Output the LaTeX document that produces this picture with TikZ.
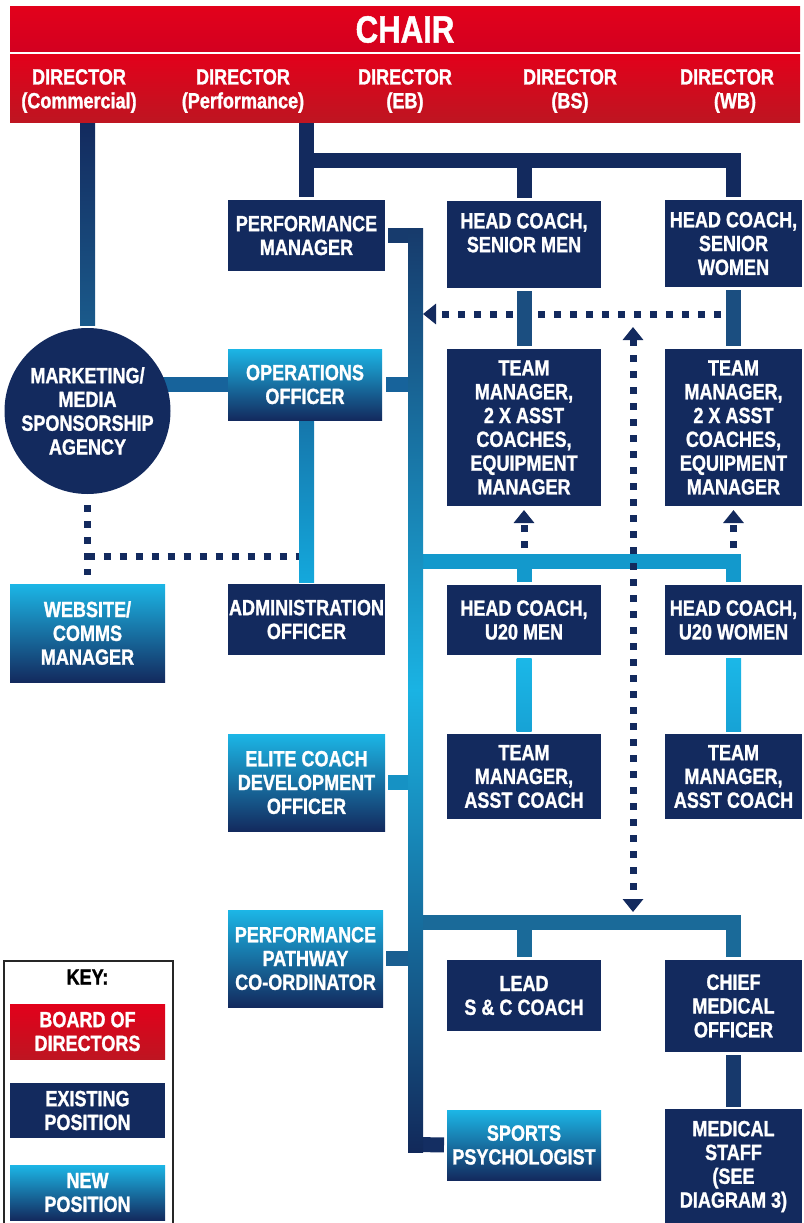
\documentclass[tikz,border=0pt]{standalone}
\usepackage{fontspec}
\newfontfamily\condf{Liberation Sans}[FakeStretch=0.82,BoldFeatures={FakeBold=1.2}]
\usetikzlibrary{calc,arrows.meta,backgrounds}
\definecolor{cNavy}{HTML}{132A5E}
\definecolor{cRedT}{HTML}{E2011B}
\definecolor{cRedB}{HTML}{BE1521}
\definecolor{cChairB}{HTML}{D30020}
\definecolor{cCyT}{HTML}{1CB6E6}
\definecolor{cLnA}{HTML}{1A5A8B}
\definecolor{cTopStub}{HTML}{173B6D}
\definecolor{cOps}{HTML}{17639B}
\definecolor{cOA1}{HTML}{1576AB}
\definecolor{cOA2}{HTML}{14A8DC}
\definecolor{cBr1}{HTML}{1399CC}
\definecolor{cCy}{HTML}{1BB8E8}
\definecolor{cCy2}{HTML}{17A2D5}
\definecolor{cEcdo}{HTML}{1692C4}
\definecolor{cBr2}{HTML}{1A6A99}
\definecolor{cPpc}{HTML}{1A5F91}
\definecolor{cBot}{HTML}{142E62}
\definecolor{cHS}{HTML}{1B4E80}
\definecolor{cCmo}{HTML}{17396C}
\definecolor{cTrT}{HTML}{173A6B}
\definecolor{cTrM}{HTML}{1AB3E3}
\definecolor{cTrB}{HTML}{12295A}
\begin{document}
\begin{tikzpicture}[x=1pt,y=-1pt,
  bx/.style={inner sep=0pt,outer sep=0pt,align=center,text=white,
    font=\condf\bfseries\fontsize{22}{23.8}\selectfont},
  sz/.style 2 args={minimum width=#1pt,minimum height=#2pt},
  existing/.style={bx,fill=cNavy},
  newpos/.style={bx,top color=cCyT,bottom color=cNavy},
  board/.style={bx,top color=cRedT,bottom color=cRedB},
  conn/.style={line width=15pt},
  dotl/.style={draw=cNavy,line width=7pt,dash pattern=on 7pt off 9pt},
  arrtip/.style={-{Triangle[width=20pt,length=13pt]}},
  arrboth/.style={{Triangle[width=20pt,length=13pt]}-{Triangle[width=20pt,length=13pt]}},
]
\useasboundingbox (0,0) rectangle (803,1223);

% ---- board ----
\node[bx,top color=cRedT,bottom color=cChairB,sz={790}{45},
      font=\condf\bfseries\fontsize{38}{40}\selectfont] (chair) at (405,29.5) {CHAIR};
\node[board,sz={790}{67}] (dirs) at (405,88.5) {};
\node[bx] (d1) at (79,91) {DIRECTOR\\(Commercial)};
\node[bx] (d2) at (243,91) {DIRECTOR\\(Performance)};
\node[bx] (d3) at (405,91) {DIRECTOR\\(EB)};
\node[bx] (d4) at (570,91) {DIRECTOR\\(BS)};
\node[bx] (d5) at (727,91) {DIRECTOR\\\hspace*{16pt}(WB)};

% ---- positions ----
\node[existing,sz={157}{71}] (pm) at (306.5,235.5) {PERFORMANCE\\MANAGER};
\node[existing,sz={154}{87}] (hcsm) at (524,244.5) {HEAD COACH,\\SENIOR MEN\\\mbox{}};
\node[existing,sz={137}{87}] (hcsw) at (733.5,243.5) {HEAD COACH,\\SENIOR\\WOMEN};
\node[existing,sz={154}{157}] (tm1) at (524,427.5) {TEAM\\MANAGER,\\2 X ASST\\COACHES,\\EQUIPMENT\\MANAGER};
\node[existing,sz={137}{157}] (tm2) at (733.5,427.5) {TEAM\\MANAGER,\\2 X ASST\\COACHES,\\EQUIPMENT\\MANAGER};
\node[existing,circle,minimum size=166pt] (circ) at (87.5,411) {MARKETING/\\MEDIA\\SPONSORSHIP\\AGENCY};
\node[newpos,sz={154}{71}] (ops) at (305,384.5) {OPERATIONS\\OFFICER};
\node[existing,sz={157}{71}] (admin) at (306.5,619.5) {ADMINISTRATION\\OFFICER};
\node[newpos,sz={155}{98}] (web) at (87.5,633) {WEBSITE/\\COMMS\\MANAGER};
\node[existing,sz={154}{70}] (hcu1) at (524,620) {HEAD COACH,\\U20 MEN};
\node[existing,sz={137}{70}] (hcu2) at (733.5,620) {HEAD COACH,\\U20 WOMEN};
\node[existing,sz={154}{85}] (tma1) at (524,776.5) {TEAM\\MANAGER,\\ASST COACH};
\node[existing,sz={137}{85}] (tma2) at (733.5,776.5) {TEAM\\MANAGER,\\ASST COACH};
\node[newpos,sz={157}{97}] (ecdo) at (306.5,782.5) {ELITE COACH\\DEVELOPMENT\\OFFICER};
\node[newpos,sz={155}{97}] (ppc) at (305.5,958.5) {PERFORMANCE\\PATHWAY\\CO-ORDINATOR};
\node[existing,sz={154}{71}] (lead) at (524,995.5) {LEAD\\S \& C COACH};
\node[existing,sz={137}{92}] (cmo) at (733.5,1006) {CHIEF\\MEDICAL\\OFFICER};
\node[newpos,sz={154}{70}] (sp) at (524,1145) {SPORTS\\PSYCHOLOGIST};
\node[existing,sz={137}{115}] (med) at (733.5,1166.5) {MEDICAL\\STAFF\\(SEE\\DIAGRAM 3)};

% ---- key ----
\node[draw=black!85,line width=1.4pt,sz={169}{265},inner sep=0pt] (key) at (88.5,1093.5) {};
\node[bx,text=black] (keyt) at (87.5,977) {KEY:};
\node[board,sz={155}{55}] (kb) at (87.5,1031.5) {BOARD OF\\DIRECTORS};
\node[existing,sz={155}{55}] (ke) at (87.5,1110.5) {EXISTING\\POSITION};
\node[newpos,sz={155}{55}] (kn) at (87.5,1192.5) {NEW\\POSITION};

% ---- junction coordinates ----
\coordinate (perfBr) at (306.5,160.5);
\coordinate (trunkTop) at (415.5,235.5);
\coordinate (trunkBot) at (415.5,1144.5);
\coordinate (br1) at (415.5,561.5);
\coordinate (br2) at (415.5,922.5);
\coordinate (dotR) at (721,314);
\coordinate (vdTop) at (633,327);
\coordinate (dotJ) at (87.5,556);

\begin{pgfonlayer}{background}
% dotted feedback line to the trunk
\draw[dotl,arrtip,shorten >=7.5pt] (dotR) -- (dotR -| trunkTop);
% commercial
\shade[top color=cNavy,bottom color=cLnA] ($(dirs.south -| circ)+(-7.5,0)$) rectangle ($(circ.north)+(7.5,-3)$);
% performance
\draw[conn,cNavy,shorten >=3pt] (dirs.south -| pm.north) -- (pm.north);
\draw[conn,cNavy,shorten >=3pt] (perfBr) -| (hcsw.north);
\draw[conn,cNavy,shorten >=3pt] (hcsm.north |- perfBr) -- (hcsm.north);
\draw[conn,cHS,shorten <=3pt,shorten >=3pt] (hcsm.south) -- (tm1.north);
\draw[conn,cHS,shorten <=3pt,shorten >=3pt] (hcsw.south) -- (tm2.north);
% trunk stubs
\draw[conn,cTopStub,shorten <=3pt] (pm.east) -- (trunkTop);
\draw[conn,cOps,shorten <=4pt] (ops.east) -- (ops.east -| trunkTop);
\draw[conn,cOps] (ops.west) -- (ops.west -| circ);
\shade[top color=cOA1,bottom color=cOA2] ($(ops.south -| admin.north)+(-7.5,0)$) rectangle ($(admin.north)+(7.5,-2)$);
\draw[conn,cBr1,shorten >=3pt] (br1) -| (hcu2.north);
\draw[conn,cBr1,shorten >=3pt] (hcu1.north |- br1) -- (hcu1.north);
\shade[top color=cCy,bottom color=cCy2] ($(hcu1.south)+(-7.5,3)$) rectangle ($(tma1.north)+(7.5,-3)$);
\shade[top color=cCy,bottom color=cCy2] ($(hcu2.south)+(-7.5,3)$) rectangle ($(tma2.north)+(7.5,-3)$);
\draw[conn,cEcdo,shorten <=3pt] (ecdo.east) -- (ecdo.east -| trunkTop);
\draw[conn,cBr2,shorten >=3pt] (br2) -| (cmo.north);
\draw[conn,cBr2,shorten >=3pt] (lead.north |- br2) -- (lead.north);
\draw[conn,cPpc,shorten <=3pt] (ppc.east) -- (ppc.east -| trunkTop);
\draw[conn,cBot,shorten >=3pt] (trunkBot) -- (sp.west);
\draw[conn,cCmo,shorten <=3pt,shorten >=2pt] (cmo.south) -- (med.north);
% trunk
\shade[top color=cTrT,bottom color=cTrB,middle color=cTrM] ($(trunkTop)+(-7.5,-7.5)$) rectangle ($(trunkBot)+(7.5,7.5)$);
% other dotted lines
\draw[dotl,arrboth,shorten >=10.5pt] (vdTop) -- (vdTop |- br2);
\draw[dotl,shorten <=11pt,shorten >=9pt] (circ.south) -- (web.north);
\draw[dotl,shorten >=7.5pt] (dotJ) -- (dotJ -| admin.north);
\draw[dotl,arrtip,shorten <=13.5pt,shorten >=4pt] (tm1.south |- br1) -- (tm1.south);
\draw[dotl,arrtip,shorten <=13.5pt,shorten >=4pt] (tm2.south |- br1) -- (tm2.south);
\end{pgfonlayer}
\end{tikzpicture}
\end{document}
